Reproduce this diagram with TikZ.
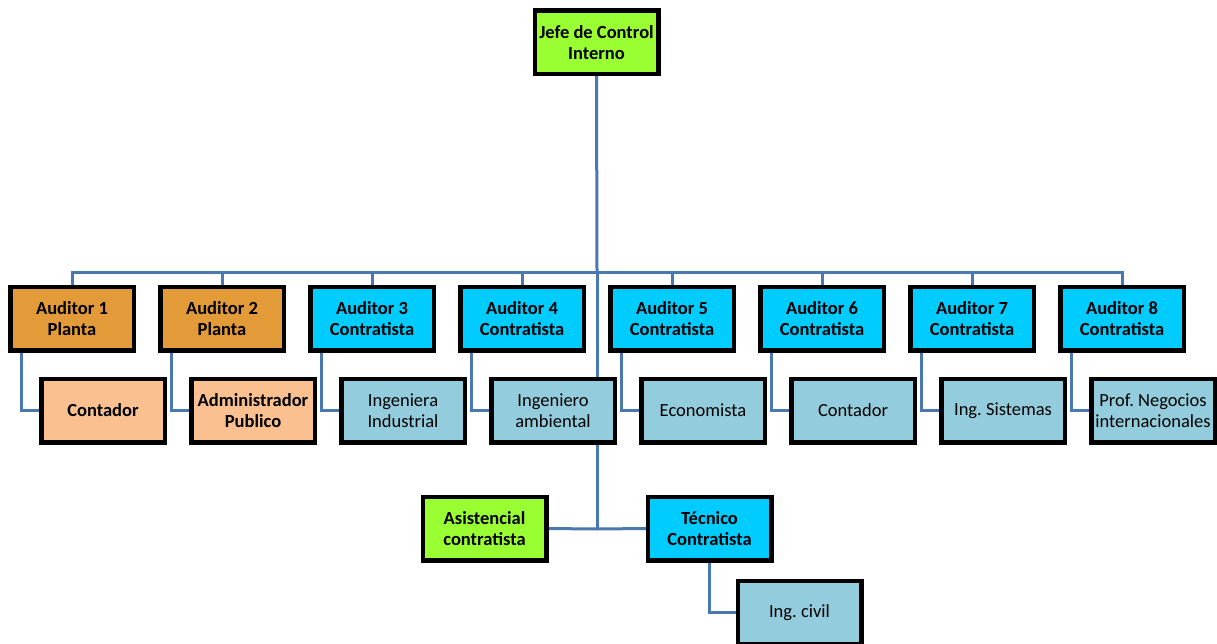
\documentclass[tikz,border=0pt]{standalone}
\usepackage{fontspec}
\setmainfont{Carlito}
\frenchspacing
\definecolor{cgreen}{HTML}{99FF33}
\definecolor{corange}{HTML}{E39A38}
\definecolor{clorange}{HTML}{FAC090}
\definecolor{ccyan}{HTML}{00CCFF}
\definecolor{clblue}{HTML}{93CDDD}
\definecolor{cline}{HTML}{4A78B0}
\begin{document}
\begin{tikzpicture}[x=1pt,y=-1pt,
  box/.style={draw=black, line width=3pt, minimum width=122pt, minimum height=62pt, align=center, inner sep=1pt, font=\fontsize{18.5}{21}\selectfont},
  bbox/.style={box, font=\fontsize{18.5}{21}\selectfont\bfseries},
  conn/.style={draw=cline, line width=3pt}]
\path[use as bounding box] (0,0) rectangle (1217,644);
\coordinate (bus) at (597,272);
\coordinate (j) at (597,529);
\node[bbox, fill=cgreen] (jefe) at (596.5,42.5) {Jefe de Control\\Interno};
\node[bbox, fill=corange] (a1) at (72,318.5) {Auditor 1\\Planta};
\node[bbox, fill=corange] (a2) at (222,318.5) {Auditor 2\\Planta};
\node[bbox, fill=ccyan] (a3) at (372,318.5) {Auditor 3\\Contratista};
\node[bbox, fill=ccyan] (a4) at (522,318.5) {Auditor 4\\Contratista};
\node[bbox, fill=ccyan] (a5) at (672,318.5) {Auditor 5\\Contratista};
\node[bbox, fill=ccyan] (a6) at (822,318.5) {Auditor 6\\Contratista};
\node[bbox, fill=ccyan] (a7) at (972,318.5) {Auditor 7\\Contratista};
\node[bbox, fill=ccyan] (a8) at (1122,318.5) {Auditor 8\\Contratista};
\node[bbox, fill=clorange] (c1) at (103,410.5) {Contador};
\node[bbox, fill=clorange] (c2) at (253,410.5) {Administrador\\Publico};
\node[box, fill=clblue] (c3) at (403,410.5) {Ingeniera\\Industrial};
\node[box, fill=clblue] (c4) at (553,410.5) {Ingeniero\\ambiental};
\node[box, fill=clblue] (c5) at (703,410.5) {Economista};
\node[box, fill=clblue] (c6) at (853,410.5) {Contador};
\node[box, fill=clblue] (c7) at (1003,410.5) {Ing. Sistemas};
\node[box, fill=clblue] (c8) at (1153,410.5) {Prof. Negocios\\internacionales};
\node[bbox, fill=cgreen] (asis) at (484.5,528.5) {Asistencial\\contratista};
\node[bbox, fill=ccyan] (tec) at (709.5,528.5) {Técnico\\Contratista};
\begin{scope}
\clip (0,0) rectangle (1217,644);
\node[box, fill=clblue] (civ) at (799.5,612.5) {Ing. civil};
\end{scope}
% connectors
\draw[conn] (jefe.south) -- (bus);
\foreach \i in {1,...,8} {
  \draw[conn] (a\i.north) |- (bus);
  \draw[conn] ([xshift=12pt]a\i.south west) |- (c\i.west);
}
\draw[conn] (bus) -- (bus |- c4.north);
\draw[conn] (j |- c4.south) -- (j);
\draw[conn] (asis.east) -- (j) -- (tec.west);
\draw[conn] (tec.south) |- (civ.west);
% redraw box borders over line ends
\foreach \n in {jefe,a1,a2,a3,a4,a5,a6,a7,a8,c1,c2,c3,c4,c5,c6,c7,c8,asis,tec} {
  \draw[black, line width=3pt] (\n.north west) rectangle (\n.south east);
}
\begin{scope}
\clip (0,0) rectangle (1217,644);
\draw[black, line width=3pt] (civ.north west) rectangle (civ.south east);
\end{scope}
\end{tikzpicture}
\end{document}
